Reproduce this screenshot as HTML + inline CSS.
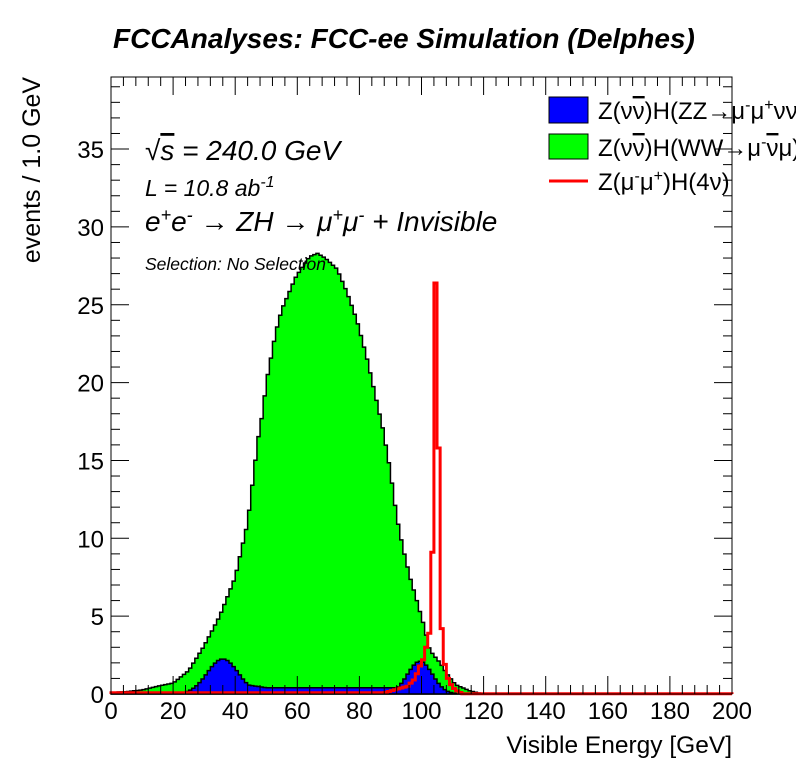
<!DOCTYPE html>
<html><head><meta charset="utf-8"><style>
body{margin:0;background:#fff;width:796px;height:772px;overflow:hidden}
svg{display:block;font-family:"Liberation Sans",sans-serif}
</style></head><body>
<svg id="s" width="796" height="772" viewBox="0 0 796 772" xmlns="http://www.w3.org/2000/svg">
<rect width="796" height="772" fill="#fff"/>
<g id="hist"></g>
<g id="axes" stroke="#000" stroke-width="1" fill="none"></g>
<rect x="111" y="77" width="621" height="617" fill="none" stroke="#000" stroke-width="1"/>
<g font-size="24" fill="#000" text-anchor="middle" id="xl"></g>
<g font-size="24" fill="#000" text-anchor="end" id="yl"></g>
<text x="113" y="48" font-size="28" font-weight="bold" font-style="italic">FCCAnalyses: FCC-ee Simulation (Delphes)</text>
<text x="732" y="753" font-size="24.5" text-anchor="end">Visible Energy [GeV]</text>
<text transform="translate(40,170) rotate(-90)" font-size="25" text-anchor="middle">events / 1.0 GeV</text>
<g font-style="italic">
<text x="145" y="160" font-size="28">√<tspan text-decoration="overline">s</tspan> = 240.0 GeV</text>
<text x="145" y="196" font-size="23">L = 10.8 ab<tspan dy="-9" font-size="16">-1</tspan></text>
<text x="145" y="231" font-size="28">e<tspan dy="-10" font-size="18">+</tspan><tspan dy="10">e</tspan><tspan dy="-10" font-size="18">-</tspan><tspan dy="10"> → ZH  → μ</tspan><tspan dy="-10" font-size="18">+</tspan><tspan dy="10">μ</tspan><tspan dy="-10" font-size="18">-</tspan><tspan dy="10"> + Invisible</tspan></text>
<text x="145" y="270" font-size="17.5">Selection: No Selection</text>
</g>
<rect x="549" y="97" width="39" height="26" fill="#0000ff" stroke="#000"/>
<rect x="549" y="134" width="39" height="25" fill="#00ff00" stroke="#000"/>
<line x1="549" y1="181" x2="588" y2="181" stroke="#f00" stroke-width="3"/>
<g font-size="24">
<text x="598" y="119">Z(ν<tspan text-decoration="overline">ν</tspan>)H(ZZ→μ<tspan dy="-9" font-size="16">-</tspan><tspan dy="9">μ</tspan><tspan dy="-9" font-size="16">+</tspan><tspan dy="9">νν</tspan>)</text>
<text x="598" y="156">Z(ν<tspan text-decoration="overline">ν</tspan>)H(WW→μ<tspan dy="-9" font-size="16">-</tspan><tspan dy="9"><tspan text-decoration="overline">ν</tspan>μ</tspan>)</text>
<text x="598" y="190">Z(μ<tspan dy="-9" font-size="16">-</tspan><tspan dy="9">μ</tspan><tspan dy="-9" font-size="16">+</tspan><tspan dy="9">)H(4ν)</tspan></text>
</g>
</svg>
<script>
const X=v=>111+v*3.105, Y=v=>694-v*15.57;
function interp(pts,x){if(x<=pts[0][0])return pts[0][1];for(let i=1;i<pts.length;i++){if(x<=pts[i][0]){const a=pts[i-1],b=pts[i];return a[1]+(b[1]-a[1])*(x-a[0])/(b[0]-a[0]);}}return pts[pts.length-1][1];}
const tot=[[0,0.1],[5,0.15],[10,0.26],[15,0.5],[20,0.7],[25,1.5],[30,3.1],[35,5],[40,7.5],[44,11],[47.3,16.3],[48.6,17.8],[50.2,20.2],[52,22.1],[53,23.2],[55,24.7],[57.6,25.9],[59.3,26.7],[61.5,27.4],[64,28.1],[66.5,28.3],[69,28],[72.8,27.3],[76,25.8],[79.2,24],[82.4,21.6],[85,19.3],[87.6,17],[89.9,14.4],[92,11.4],[94,9.4],[96.3,7.5],[98.5,6],[100.5,4.6],[102.7,2.8],[106,2.0],[108,1.35],[111,0.6],[115.6,0.2],[120,0],[200,0]];
function blue(x){let v=2.25*Math.exp(-Math.pow(x-36,2)/(2*25))+2.1*Math.exp(-Math.pow(x-99.5,2)/(2*16));
 let p=0; if(x>42&&x<95){p=0.4+ (x<50?0.25*(50-x)/8:0);} v=Math.max(v,p); if(x<22)v=Math.min(v,0.05*(x/22)); if(x>113)v=0; return v;}
const redSpecial={95:0.5,96:0.7,97:0.9,98:1.3,99:1.8,100:2.2,101:3.0,102:3.9,103:9.1,104:26.4,105:15.8,106:4.2,107:1.9,108:1.0,109:0.6,110:0.35,111:0.2,112:0.1};
function red(x){if(redSpecial[x]!==undefined)return redSpecial[x]; if(x>=88&&x<95)return 0.1+0.4*(x-88)/7; if(x>112)return 0.02; return 0.08;}
function path(f,close){let d="M"+X(0)+","+Y(0);for(let i=0;i<200;i++){const v=Math.min(f(i),39.6);d+="L"+X(i).toFixed(2)+","+Y(v).toFixed(2)+"L"+X(i+1).toFixed(2)+","+Y(v).toFixed(2);}d+="L"+X(200)+","+Y(0);if(close)d+="Z";return d;}
const ns="http://www.w3.org/2000/svg";const h=document.getElementById("hist");
function add(tag,attrs,parent){const e=document.createElementNS(ns,tag);for(const k in attrs)e.setAttribute(k,attrs[k]);(parent||h).appendChild(e);return e;}
const T=i=>Math.max(interp(tot,i+0.5),blue(i+0.5));
add("path",{d:path(T,true),fill:"#00ff00",stroke:"#000","stroke-width":1.5});
add("path",{d:path(i=>blue(i+0.5),true),fill:"#0000ff",stroke:"#000","stroke-width":1.5});
add("path",{d:path(i=>red(i),false),fill:"none",stroke:"#ff0000","stroke-width":3});
const ax=document.getElementById("axes");
for(let v=0;v<=200;v+=4){const maj=v%20==0,l=maj?18:9;add("line",{x1:X(v),y1:694,x2:X(v),y2:694-l},ax);add("line",{x1:X(v),y1:77,x2:X(v),y2:77+l},ax);}
for(let v=0;v<=39;v++){const maj=v%5==0,l=maj?18:9;add("line",{x1:111,y1:Y(v),x2:111+l,y2:Y(v)},ax);add("line",{x1:732,y1:Y(v),x2:732-l,y2:Y(v)},ax);}
const xl=document.getElementById("xl");for(let v=0;v<=200;v+=20){const t=add("text",{x:X(v),y:719},xl);t.textContent=v;}
const yl=document.getElementById("yl");for(let v=0;v<=35;v+=5){const t=add("text",{x:104,y:Y(v)+9},yl);t.textContent=v;}
</script>
</body></html>
